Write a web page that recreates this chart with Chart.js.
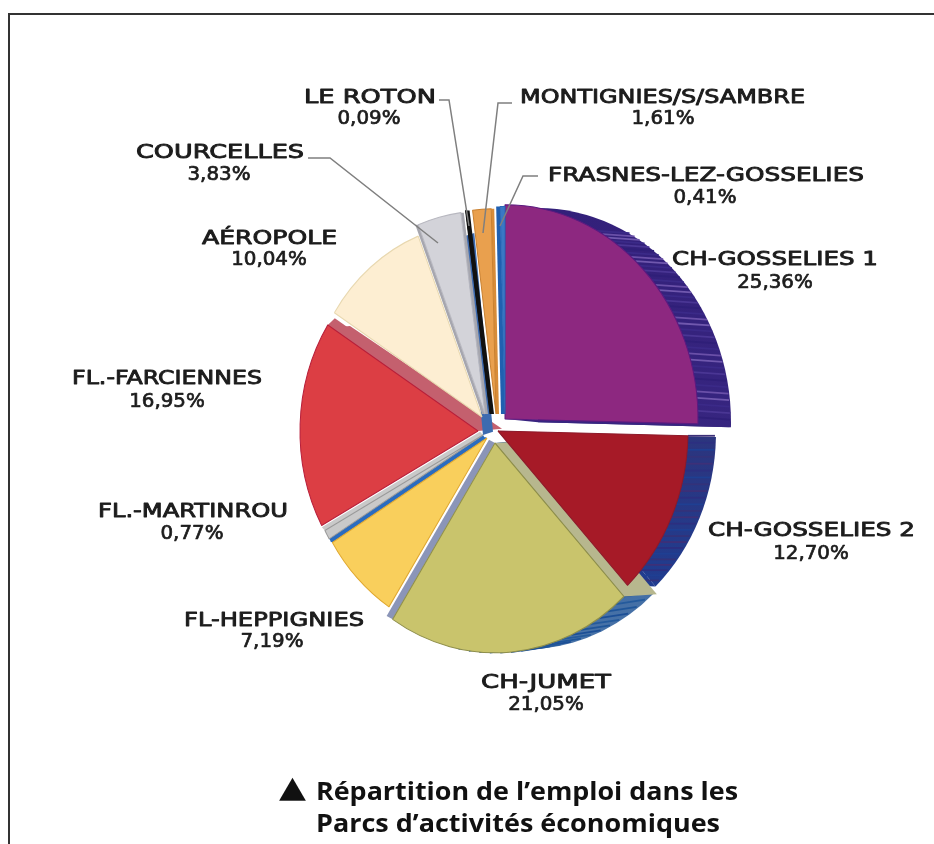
<!DOCTYPE html>
<html><head><meta charset="utf-8">
<style>html,body{margin:0;padding:0;background:#fff;width:934px;height:844px;overflow:hidden}#w{position:absolute;left:0;top:0;width:934px;height:844px}</style>
<script src="https://cdn.jsdelivr.net/npm/chart.js@4"></script>
</head><body><div id="w"><canvas id="c" width="934" height="844"></canvas></div>
<script>
const categories = ["CH-GOSSELIES 1","CH-GOSSELIES 2","CH-JUMET","FL-HEPPIGNIES","FL.-MARTINROU","FL.-FARCIENNES","AÉROPOLE","COURCELLES","LE ROTON","MONTIGNIES/S/SAMBRE","FRASNES-LEZ-GOSSELIES"];
const shares = [25.36,12.70,21.05,7.19,0.77,16.95,10.04,3.83,0.09,1.61,0.41];
const fills = ["#8d2880","#a61a27","#c9c46c","#f9cf5c","#c9c9c9","#dc3e44","#fdeed2","#d3d3d9","#111111","#e9a04e","#3a78c4"];
const edges = ["#5c1a80","#8e1a2a","#8f8f4a","#e0a830","#999999","#b81f3a","#e8d8b0","#b8b8c0","#111111","#c98030","#2a68b8"];
// layout of slices relative to pie centre, radius in px
const sliceShift = [[15,-11],[8,1],[5,13],[-3,8],[-7,5],[-12,1],[-8,-13],[-5,-16],[0,-16],[6,-16],[15,-16]];
const sliceRadius = [193,190,189,181,180,178,175,183,185,185,187];
const yStretch = 1.11;
// label boxes: [left, right, name baseline, percent centre, percent baseline]
const labelBoxes = [[672,878,265,775,288],[708,915,536,811,559],[481,611,688,546,710],[184,364,626,272,647],[98,288,517,192,539],[72,262,384,167,407],[202,337,244,269,265],[136,304,158,219,180],[304,436,103,369,124],[520,805,103,663,124],[548,864,181,705,203]];
const leaders = [[[308,158],[330,158],[438,243]],[[439,100],[449,100],[469,226]],[[512,103],[498,103],[483,233]],[[538,176],[523,176],[500,226]]];
const titleLines = ["Répartition de l’emploi dans les","Parcs d’activités économiques"];

function slicePath(ctx,a,dx,dy){
  ctx.beginPath();ctx.moveTo(a.x+dx,a.y+dy);
  ctx.arc(a.x+dx,a.y+dy,a.outerRadius,a.startAngle,a.endAngle);ctx.closePath();
}
function wall(ctx,a,angle,dx,dy,color){
  const rx=a.x+a.outerRadius*Math.cos(angle),ry=a.y+a.outerRadius*Math.sin(angle);
  ctx.beginPath();ctx.moveTo(a.x,a.y);ctx.lineTo(rx,ry);ctx.lineTo(rx+dx,ry+dy);ctx.lineTo(a.x+dx,a.y+dy);ctx.closePath();
  ctx.fillStyle=color;ctx.fill();
}
function side(ctx,a,dx,dy,c1,c2,streaks,from,to){
  const g=ctx.createLinearGradient(0,a.y-a.outerRadius,0,a.y+a.outerRadius);
  g.addColorStop(0,c1);g.addColorStop(1,c2);
  slicePath(ctx,a,dx,dy);ctx.fillStyle=g;ctx.fill();
  wall(ctx,a,to,dx,dy,g);
  const n=streaks.length*6;
  ctx.lineWidth=1.6;
  for(let k=0;k<n;k++){
    const t=from+(to-from)*k/n;
    const x=a.x+a.outerRadius*Math.cos(t),y=a.y+a.outerRadius*Math.sin(t);
    ctx.strokeStyle=streaks[k%streaks.length];
    ctx.beginPath();ctx.moveTo(x,y);ctx.lineTo(x+dx-1,y+dy-1);ctx.stroke();
  }
}
function fitText(ctx,text,left,right,base,font,weight){
  ctx.font=font;ctx.textAlign='left';ctx.textBaseline='alphabetic';
  const w=ctx.measureText(text).width;
  ctx.save();ctx.translate(left,base);ctx.scale((right-left)/w,1);ctx.fillText(text,0,0);
  if(weight){ctx.lineWidth=weight;ctx.lineJoin='round';ctx.strokeText(text,0,0);}
  ctx.restore();
}
const piePlugin={
  id:'pie3d',
  beforeDatasetsDraw(chart){
    const ctx=chart.ctx,arcs=chart.getDatasetMeta(0).data;
    const cx=arcs[0].$cx??(arcs[0].$cx=arcs[0].x),cy=arcs[0].$cy??(arcs[0].$cy=arcs[0].y);
    arcs.forEach((a,i)=>{a.x=cx+sliceShift[i][0];a.y=cy+sliceShift[i][1]/yStretch;a.outerRadius=sliceRadius[i];});
    ctx.save();ctx.translate(cx,cy);ctx.scale(1,yStretch);ctx.translate(-cx,-cy);
    const [p,g,j,h,m,f,ae,co,ro,mo,fr]=arcs;
    side(ctx,p,33,3,"#33207a","#3a2a85",["#3b2a88","#6a50a8","#7058ae","#3b2a88","#4a3694","#2f1f78"],p.startAngle+0.5,p.endAngle);
    side(ctx,g,28,1,"#3d2a66","#1c3f95",["#3d3078","#2c2f80","#1f3f92","#33327a"],g.startAngle,g.endAngle);
    side(ctx,j,30,-3,"#1c4f96","#4a74a8",["#1c4f96","#245a9c","#1f5599"],j.startAngle,j.startAngle+1.0);
    wall(ctx,j,j.startAngle,33,-2,"#b7b78e");
    wall(ctx,j,j.endAngle,-6,-3,"#8b95b8");
    wall(ctx,h,h.endAngle,-2,-1,"#2a6cc0");
    wall(ctx,m,m.endAngle,-3,-3,"#c9c9c9");
    wall(ctx,m,m.startAngle,2,3,"#2a6cc0");
    wall(ctx,f,f.endAngle,7,-6,"#c4606e");
    wall(ctx,f,f.endAngle-0.02,24,-2,"#c4606e");
    wall(ctx,m,f.endAngle+0.9,10,-3,"#3d6bb0");
    wall(ctx,co,co.startAngle,-3,0,"#a6a6ae");
    wall(ctx,co,co.endAngle,3,0,"#a6a6ae");
    wall(ctx,ro,ro.startAngle,4,0,"#111111");
    wall(ctx,mo,mo.endAngle,3,0,"#d88c38");
    wall(ctx,fr,fr.startAngle,-4,0,"#2060b0");
  },
  afterDatasetsDraw(chart){
    const ctx=chart.ctx;
    ctx.restore();
    // frame
    ctx.strokeStyle="#333";ctx.lineWidth=2;
    ctx.beginPath();ctx.moveTo(9,844);ctx.lineTo(9,14);ctx.lineTo(934,14);ctx.stroke();
    // leaders
    ctx.strokeStyle="#7f7f7f";ctx.lineWidth=1.5;
    leaders.forEach(l=>{ctx.beginPath();l.forEach((q,i)=>i?ctx.lineTo(q[0],q[1]):ctx.moveTo(q[0],q[1]));ctx.stroke();});
    // labels
    ctx.fillStyle="#1c1c1c";ctx.strokeStyle="#1c1c1c";
    categories.forEach((n,i)=>{
      const b=labelBoxes[i];
      fitText(ctx,n,b[0],b[1],b[2],"500 20px 'DejaVu Sans'",0.9);
      const pct=shares[i].toFixed(2).replace('.',',')+'%';
      const w=pct.length*12.6;
      fitText(ctx,pct,b[3]-w/2,b[3]+w/2,b[4],"500 19px 'DejaVu Sans'",0.7);
    });
    // title
    ctx.fillStyle="#111";
    fitText(ctx,"▲",279,306,797,"30px 'DejaVu Sans'");
    fitText(ctx,titleLines[0],316,738,800,"700 25px 'Open Sans'");
    fitText(ctx,titleLines[1],316,720,832,"700 25px 'Open Sans'");
  }
};
new Chart(document.getElementById('c'),{
  type:'pie',
  data:{labels:categories,datasets:[{data:shares,backgroundColor:fills,borderColor:edges,borderWidth:1,clip:false}]},
  options:{
    responsive:false,animation:false,events:[],rotation:0,radius:185,
    layout:{padding:{left:46,top:16}},
    plugins:{legend:{display:false},tooltip:{enabled:false}}
  },
  plugins:[piePlugin]
});
</script></body></html>
